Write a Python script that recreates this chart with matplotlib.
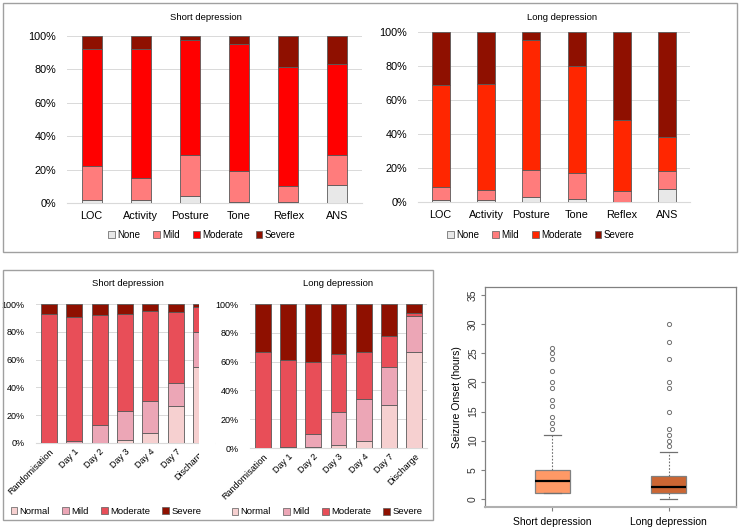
import numpy as np
import matplotlib
matplotlib.use('Agg')
from matplotlib import pyplot as plt
from matplotlib.patches import Patch, Rectangle

plt.rcParams['font.family'] = ['Liberation Sans', 'DejaVu Sans']

W, H = 740, 528

# ---- data ----
domains = ['LOC', 'Activity', 'Posture', 'Tone', 'Reflex', 'ANS']
grades = ['None', 'Mild', 'Moderate', 'Severe']

# segment heights (%)
short_none = [2, 2, 4, 0.5, 0.5, 11]
short_mild = [20, 13, 24.5, 18.5, 9.5, 17.5]
short_mod = [70.5, 77.5, 69, 76, 71.5, 55]
short_sev = [7.5, 7.5, 2.5, 5, 18.5, 16.5]

long_none = [1, 1, 3, 1.5, 0, 7.5]
long_mild = [8, 6, 16, 15.5, 6.5, 10.5]
long_mod = [60, 62.5, 76.5, 63, 42, 20]
long_sev = [31, 30.5, 4.5, 20, 51.5, 62]

days = ['Randomisation', 'Day 1', 'Day 2', 'Day 3', 'Day 4', 'Day 7', 'Discharge']
stages = ['Normal', 'Mild', 'Moderate', 'Severe']

sd_normal = [0, 0, 0, 2.5, 7.5, 26.5, 55]
sd_mild = [0.3, 1.5, 13, 20.5, 22.5, 16.5, 25]
sd_mod = [92.7, 89.5, 79, 69.5, 65, 51, 18]
sd_sev = [7, 9, 8, 7.5, 5, 6, 2]

ld_normal = [0, 0.5, 0.5, 2, 5, 30, 67]
ld_mild = [0, 0.5, 9.5, 23, 29, 26, 25]
ld_mod = [67, 60, 50, 40, 33, 22, 2]
ld_sev = [33, 39, 40, 35, 33, 22, 6]

groups = ['Short depression', 'Long depression']
box_q1 = [1, 1]
box_med = [3, 2]
box_q3 = [5, 4]
box_lo = [1, 0]
box_hi = [11, 8]
box_out = [[12, 13, 14, 16, 17, 19, 20, 22, 24, 25, 26],
           [9, 10, 11, 12, 15, 19, 20, 24, 27, 30]]


def px(l, t, r, b):
    return [l / W, 1 - b / H, (r - l) / W, (b - t) / H]


def stacked(ax, cats, segs, colors, width, fs, rot=0):
    x = np.arange(len(cats))
    bottom = np.zeros(len(cats))
    for s, c in zip(segs, colors):
        ax.bar(x, s, width, bottom=bottom, color=c, edgecolor='#5a5a5a',
               linewidth=0.6, zorder=3)
        bottom += np.array(s)
    ax.set_ylim(0, 100)
    ax.set_yticks([0, 20, 40, 60, 80, 100])
    ax.set_yticklabels(['%d%%' % v for v in range(0, 101, 20)], fontsize=fs)
    ax.yaxis.grid(True, color='#d9d9d9', linewidth=0.7, zorder=0)
    for sp in ['top', 'right', 'left']:
        ax.spines[sp].set_visible(False)
    ax.spines['bottom'].set_color('#d9d9d9')
    ax.tick_params(length=0, pad=8)
    ax.set_xticks(x)
    if rot:
        ax.set_xticklabels(cats, fontsize=fs, rotation=rot, ha='right',
                           rotation_mode='anchor')
        ax.tick_params(axis='x', pad=3)
    else:
        ax.set_xticklabels(cats, fontsize=fs)
        ax.tick_params(axis='x', pad=6)


def legend(fig, labels, colors, xc, yc, fs):
    handles = [Patch(facecolor=c, edgecolor='#5a5a5a', linewidth=0.5) for c in colors]
    fig.legend(handles, labels, loc='center', bbox_to_anchor=(xc / W, 1 - yc / H),
               ncol=4, frameon=False, fontsize=fs, handlelength=0.7,
               handleheight=0.7, handletextpad=0.25, columnspacing=1.3)


fig = plt.figure(figsize=(7.4, 5.28), dpi=100)

# outer frames
fig.add_artist(Rectangle((3 / W, 1 - 252 / H), 734 / W, 249 / H, transform=fig.transFigure,
                         fill=False, edgecolor='#a0a0a0', linewidth=1.0))
fig.add_artist(Rectangle((3 / W, 1 - 520 / H), 430 / W, 250 / H, transform=fig.transFigure,
                         fill=False, edgecolor='#a0a0a0', linewidth=1.0))

top_short_colors = ['#e8e8e8', '#ff7c7c', '#ff0000', '#8f1000']
top_long_colors = ['#e8e8e8', '#ff7c7c', '#ff2600', '#8f1000']

ax1 = fig.add_axes(px(67, 36, 362, 203))
stacked(ax1, domains, [short_none, short_mild, short_mod, short_sev],
        top_short_colors, 0.41, 7.8)
ax1.set_xlim(-0.5, 5.5)
fig.text(206 / W, 1 - 17 / H, 'Short depression', ha='center', va='center', fontsize=6.8)
legend(fig, grades, top_short_colors, 202, 235, 7)

ax2 = fig.add_axes(px(418, 32, 690, 202))
stacked(ax2, domains, [long_none, long_mild, long_mod, long_sev],
        top_long_colors, 0.4, 7.8)
ax2.set_xlim(-0.5, 5.5)
fig.text(562 / W, 1 - 17 / H, 'Long depression', ha='center', va='center', fontsize=6.8)
legend(fig, grades, top_long_colors, 541, 235, 7)

bot_colors = ['#f6d0d0', '#eca6b6', '#e84e58', '#8f1000']

ax3 = fig.add_axes(px(36, 304, 214, 443))
stacked(ax3, days, [sd_normal, sd_mild, sd_mod, sd_sev], bot_colors, 0.63, 6.5, rot=45)
ax3.set_xlim(-0.5, 6.5)
fig.text(128 / W, 1 - 284 / H, 'Short depression', ha='center', va='center', fontsize=6.8)
legend(fig, stages, bot_colors, 106, 511, 6.8)

# the long chart sits over the right end of the short one
fig.add_artist(Rectangle((199 / W, 1 - 506 / H), 16 / W, 215 / H, transform=fig.transFigure,
                         facecolor='white', edgecolor='none', zorder=5))

ax4 = fig.add_axes(px(250, 304, 427, 448))
stacked(ax4, days, [ld_normal, ld_mild, ld_mod, ld_sev], bot_colors, 0.63, 6.5, rot=45)
ax4.set_xlim(-0.5, 6.5)
ax4.set_zorder(6)
fig.text(338 / W, 1 - 284 / H, 'Long depression', ha='center', va='center', fontsize=6.8)
legend(fig, stages, bot_colors, 327, 512, 6.8)

# boxplot
ax5 = fig.add_axes(px(485, 287, 736, 507))
stats = []
for i in range(2):
    stats.append(dict(med=box_med[i], q1=box_q1[i], q3=box_q3[i],
                      whislo=box_lo[i], whishi=box_hi[i], fliers=box_out[i]))
bp = ax5.bxp(stats, positions=[1, 2], widths=0.3, patch_artist=True,
             showcaps=True,
             boxprops=dict(edgecolor='#808080', linewidth=0.9),
             medianprops=dict(color='black', linewidth=1.6),
             whiskerprops=dict(color='#707070', linestyle=(0, (1.5, 1.5)), linewidth=0.8),
             capprops=dict(color='#707070', linewidth=0.9),
             flierprops=dict(marker='o', markersize=3.0, markerfacecolor='none',
                             markeredgecolor='#707070', markeredgewidth=0.7))
for patch, c in zip(bp['boxes'], ['#ff9966', '#cc6633']):
    patch.set_facecolor(c)
for cap in bp['caps']:
    xs = cap.get_xdata()
    m = (xs[0] + xs[1]) / 2
    cap.set_xdata([m - 0.075, m + 0.075])
ax5.set_xlim(0.42, 2.58)
ax5.set_ylim(-1.4, 36.4)
ax5.set_yticks([0, 5, 10, 15, 20, 25, 30, 35])
ax5.set_yticklabels(['0', '5', '10', '15', '20', '25', '30', '35'], rotation=90,
                    va='center', fontsize=7.5, color='#333333')
ax5.set_xticks([1, 2])
ax5.set_xticklabels(groups, fontsize=7.5)
for sp in ax5.spines.values():
    sp.set_color('#808080')
    sp.set_linewidth(0.9)
ax5.spines['bottom'].set_linewidth(1.5)
ax5.spines['bottom'].set_color('#b0b0b0')
ax5.tick_params(axis='y', length=3, color='#808080', pad=2)
ax5.tick_params(axis='x', length=3, color='#808080', pad=4)
ax5.set_ylabel('Seizure Onset (hours)', fontsize=7.5, labelpad=4)

fig.savefig('out.png', dpi=100)
